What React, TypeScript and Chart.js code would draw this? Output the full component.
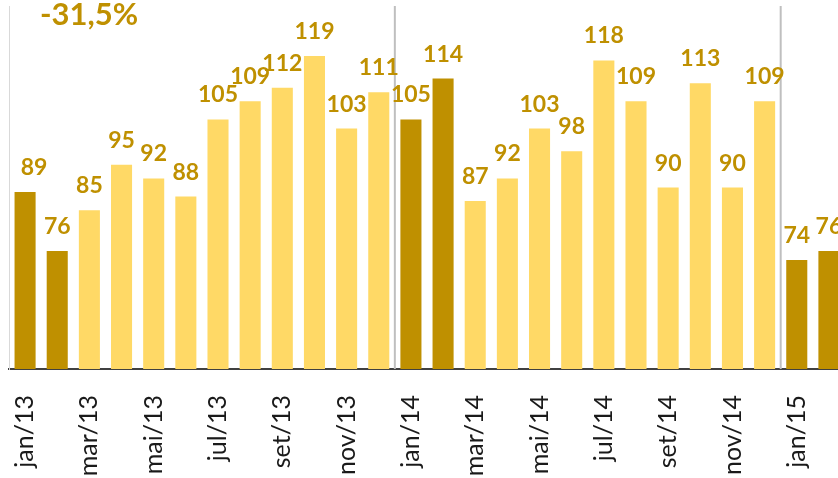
import React, { useEffect, useRef } from "react";
import { Chart, registerables } from "chart.js";

Chart.register(...registerables);

const categories = [
  "jan/13", "fev/13", "mar/13", "abr/13", "mai/13", "jun/13",
  "jul/13", "ago/13", "set/13", "out/13", "nov/13", "dez/13",
  "jan/14", "fev/14", "mar/14", "abr/14", "mai/14", "jun/14",
  "jul/14", "ago/14", "set/14", "out/14", "nov/14", "dez/14",
  "jan/15", "fev/15",
];
const values = [
  89, 76, 85, 95, 92, 88, 105, 109, 112, 119, 103, 111,
  105, 114, 87, 92, 103, 98, 118, 109, 90, 113, 90, 109,
  74, 76,
];
const highlightMonths = ["jan", "fev"];
const annotationText = "-31,5%";
const yMin = 50;
const yMax = 130;

const DARK = "#BF9000";
const LIGHT = "#FFD966";
const LABEL_COLOR = "#BF9000";
const CANVAS_W = 845;
const CANVAS_H = 478;
const AXIS_Y = 369;

const barColors = categories.map((c) =>
  highlightMonths.includes(c.split("/")[0]) ? DARK : LIGHT
);
const yearStarts = categories
  .map((c, i) => (i > 0 && c.startsWith("jan") ? i : -1))
  .filter((i) => i > 0);

const overlayPlugin = {
  id: "overlay",
  beforeDatasetsDraw(chart: any) {
    const { ctx, chartArea, scales } = chart;
    ctx.save();
    ctx.strokeStyle = "#BFBFBF";
    ctx.lineWidth = 2;
    yearStarts.forEach((i) => {
      const x = (scales.x.getPixelForValue(i - 1) + scales.x.getPixelForValue(i)) / 2;
      ctx.beginPath();
      ctx.moveTo(x, chartArea.top);
      ctx.lineTo(x, chartArea.bottom);
      ctx.stroke();
    });
    ctx.restore();
  },
  afterDatasetsDraw(chart: any) {
    const { ctx } = chart;
    const meta = chart.getDatasetMeta(0);
    ctx.save();
    ctx.fillStyle = LABEL_COLOR;
    ctx.font = "bold 23px Lato";
    ctx.textAlign = "center";
    ctx.textBaseline = "alphabetic";
    meta.data.forEach((bar: any, i: number) => {
      const dx = i === 0 ? 9 : 0;
      ctx.fillText(String(values[i]), bar.x + dx, bar.y - 17);
    });
    ctx.font = "bold 31px Lato";
    ctx.textAlign = "left";
    ctx.fillText(annotationText, 40, 25);
    ctx.restore();
  },
};

export default function App() {
  const ref = useRef<HTMLCanvasElement | null>(null);
  useEffect(() => {
    if (!ref.current) return;
    const chart = new Chart(ref.current, {
      type: "bar",
      data: {
        labels: categories,
        datasets: [
          {
            data: values,
            backgroundColor: barColors,
            borderWidth: 0,
            categoryPercentage: 1,
            barPercentage: 0.655,
          },
        ],
      },
      options: {
        responsive: false,
        animation: false,
        layout: { padding: { left: 9, top: 6, right: 0, bottom: 0 } },
        plugins: {
          legend: { display: false },
          tooltip: { enabled: false },
          title: { display: false },
        },
        scales: {
          x: {
            grid: { display: false },
            border: { display: true, color: "#404040", width: 2 },
            ticks: {
              autoSkip: false,
              minRotation: 90,
              maxRotation: 90,
              padding: 18,
              color: "#1a1a1a",
              font: { family: "Lato", size: 25 },
              callback: (_v: any, i: number) => (i % 2 === 0 ? categories[i] : ""),
            },
            afterFit: (s: any) => {
              s.height = CANVAS_H - AXIS_Y;
              s.paddingLeft = 0;
              s.paddingRight = 0;
            },
          },
          y: {
            min: yMin,
            max: yMax,
            grid: { display: false },
            border: { display: true, color: "#D9D9D9", width: 1 },
            ticks: { display: false },
            afterFit: (s: any) => {
              s.width = 0;
            },
          },
        },
      },
      plugins: [overlayPlugin],
    });
    return () => chart.destroy();
  }, []);
  return (
    <div
      style={{
        position: "fixed",
        left: 0,
        top: 0,
        width: 838,
        height: 478,
        overflow: "hidden",
        background: "#fff",
      }}
    >
      <canvas ref={ref} width={CANVAS_W} height={CANVAS_H} style={{ display: "block" }} />
    </div>
  );
}
